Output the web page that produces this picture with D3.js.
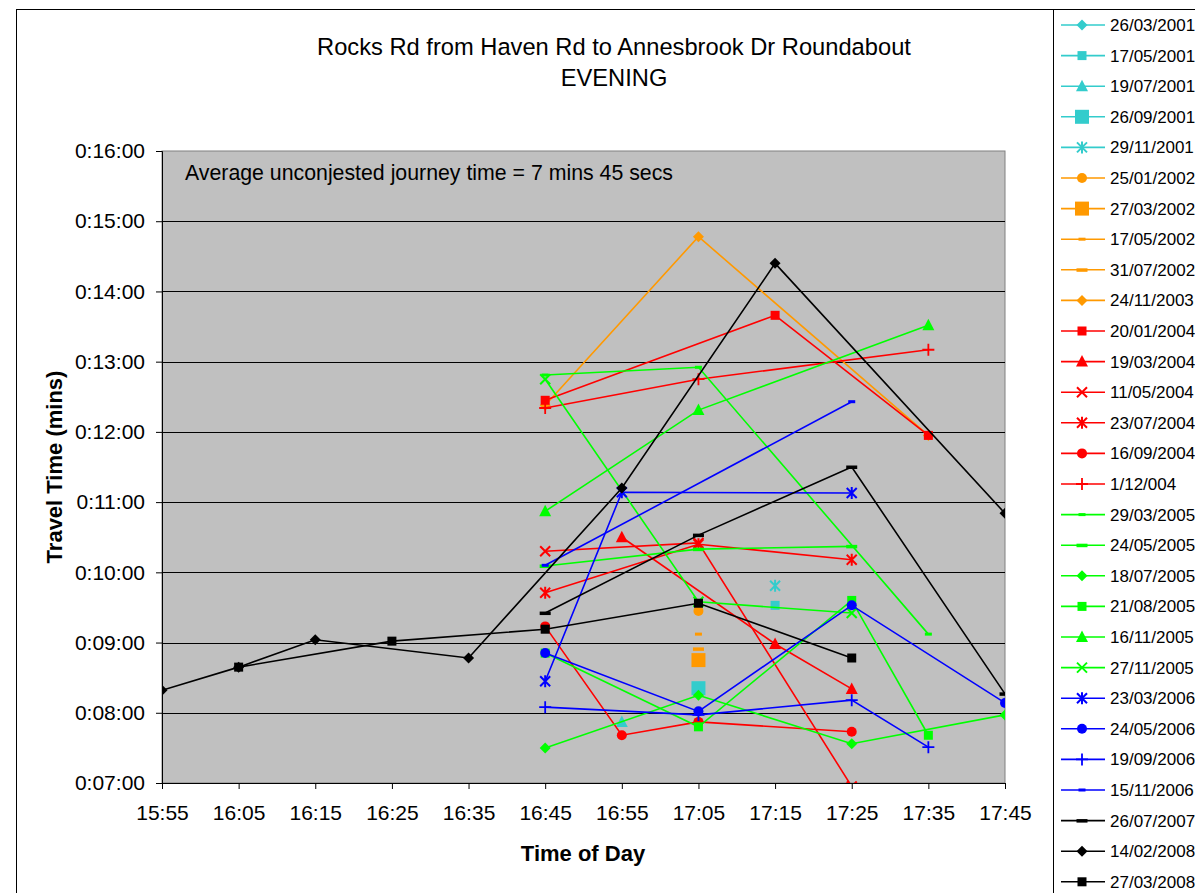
<!DOCTYPE html>
<html>
<head>
<meta charset="utf-8">
<script src="https://cdn.jsdelivr.net/npm/d3@7"></script>
<style>
  body { margin: 0; background: #fff; }
  text { font-family: Arial, "Liberation Sans", sans-serif; }
</style>
</head>
<body>
<div id="chart"></div>
<script>
// category axis
const times = ["15:55","16:05","16:15","16:25","16:35","16:45","16:55","17:05","17:15","17:25","17:35","17:45"];
const yTicks = [7, 8, 9, 10, 11, 12, 13, 14, 15, 16];

// survey dates (legend order)
const surveyDates = ["26/03/2001","17/05/2001","19/07/2001","26/09/2001","29/11/2001",
  "25/01/2002","27/03/2002","17/05/2002","31/07/2002","24/11/2003",
  "20/01/2004","19/03/2004","11/05/2004","23/07/2004","16/09/2004","1/12/004",
  "29/03/2005","24/05/2005","18/07/2005","21/08/2005","16/11/2005","27/11/2005",
  "23/03/2006","24/05/2006","19/09/2006","15/11/2006","26/07/2007","14/02/2008","27/03/2008"];

const seriesColors = ["#33cccc","#33cccc","#33cccc","#33cccc","#33cccc",
  "#ff9900","#ff9900","#ff9900","#ff9900","#ff9900",
  "#ff0000","#ff0000","#ff0000","#ff0000","#ff0000","#ff0000",
  "#00ff00","#00ff00","#00ff00","#00ff00","#00ff00","#00ff00",
  "#0000ff","#0000ff","#0000ff","#0000ff","#000000","#000000","#000000"];

const seriesMarkers = ["diamond","square","triangle","bigsquare","asterisk",
  "circle","bigsquare","smalldash","dash","diamond",
  "square","triangle","x","asterisk","circle","plus",
  "smalldash","dash","diamond","square","triangle","x",
  "asterisk","circle","plus","smalldash","dash","diamond","square"];

// travel time in minutes, one entry per time slot (null = not surveyed)
const _ = null;
const travelTimes = [
  [_,_,_,_,_,_,_,7.88,_,_,_,_],
  [_,_,_,_,_,_,_,_,9.53,_,_,_],
  [_,_,_,_,_,_,7.87,_,_,_,_,_],
  [_,_,_,_,_,_,_,8.35,_,_,_,_],
  [_,_,_,_,_,_,_,_,9.81,_,_,_],
  [_,_,_,_,_,_,_,9.45,_,_,_,_],
  [_,_,_,_,_,_,_,8.75,_,_,_,_],
  [_,_,_,_,_,_,_,9.12,_,_,_,_],
  [_,_,_,_,_,_,_,8.91,_,_,_,_],
  [_,_,_,_,_,12.38,_,14.78,_,_,11.95,_],
  [_,_,_,_,_,12.45,_,_,13.66,_,11.95,_],
  [_,_,_,_,_,_,10.50,_,8.98,8.34,_,_],
  [_,_,_,_,_,10.30,_,10.42,_,6.95,_,_],
  [_,_,_,_,_,9.71,_,10.40,_,10.18,_,_],
  [_,_,_,_,_,9.23,7.68,7.87,_,7.73,_,_],
  [_,_,_,_,_,12.34,_,12.75,_,_,13.17,_],
  [_,_,_,_,_,12.81,_,12.92,_,_,9.12,_],
  [_,_,_,_,_,10.09,_,10.33,_,10.37,_,_],
  [_,_,_,_,_,7.50,_,8.25,_,7.56,_,7.97],
  [_,_,_,_,_,8.85,_,7.80,_,9.60,7.68,_],
  [_,_,_,_,_,10.87,_,12.31,_,_,13.52,_],
  [_,_,_,_,_,12.75,_,9.58,_,9.42,_,_],
  [_,_,_,_,_,8.45,11.14,_,_,11.13,_,_],
  [_,_,_,_,_,8.85,_,8.02,_,9.53,_,8.14],
  [_,_,_,_,_,8.08,_,7.97,_,8.18,7.51,_],
  [_,_,_,_,_,10.10,_,_,_,12.43,_,_],
  [_,_,_,_,_,9.42,_,10.53,_,11.50,_,8.27],
  [8.32,8.65,9.04,_,8.78,_,11.20,_,14.40,_,_,10.84],
  [_,8.65,_,9.02,_,9.19,_,9.56,_,8.78,_,_]
];

const width = 1195, height = 893;
const plot = { left: 162, right: 1005, top: 151, bottom: 783 };

const svg = d3.select("#chart").append("svg")
  .attr("width", width)
  .attr("height", height)
  .style("display", "block");

svg.append("rect").attr("width", width).attr("height", height).attr("fill", "#fff");

// chart area border
svg.append("rect")
  .attr("x", 16.5).attr("y", 9.5)
  .attr("width", 1400).attr("height", 1000)
  .attr("fill", "none").attr("stroke", "#000").attr("stroke-width", 1);

const x = d3.scalePoint().domain(times).range([plot.left, plot.right]);
const y = d3.scaleLinear().domain([7, 16]).range([plot.bottom, plot.top]);

// plot area
svg.append("rect")
  .attr("x", plot.left).attr("y", plot.top)
  .attr("width", plot.right - plot.left).attr("height", plot.bottom - plot.top)
  .attr("fill", "#c0c0c0").attr("stroke", "#808080").attr("stroke-width", 1);

svg.append("g")
  .selectAll("line")
  .data(yTicks.filter(d => d > 7 && d < 16))
  .join("line")
  .attr("x1", plot.left).attr("x2", plot.right)
  .attr("y1", d => Math.round(y(d)) + 0.5).attr("y2", d => Math.round(y(d)) + 0.5)
  .attr("stroke", "#000").attr("stroke-width", 1);

// axes
const pad = n => String(n).padStart(2, "0");
const yAxis = svg.append("g")
  .attr("transform", `translate(${plot.left},0)`)
  .call(d3.axisLeft(y).tickValues(yTicks).tickFormat(d => `0:${pad(d)}:00`).tickSize(6).tickPadding(11));
const xAxis = svg.append("g")
  .attr("transform", `translate(0,${plot.bottom})`)
  .call(d3.axisBottom(x).tickSize(6).tickPadding(16));

[yAxis, xAxis].forEach(g => {
  g.select(".domain").attr("stroke", "#000");
  g.selectAll(".tick line").attr("stroke", "#000");
  g.selectAll("text").attr("fill", "#000").style("font-size", "21px")
    .style("font-family", "Arial, 'Liberation Sans', sans-serif");
});

svg.append("defs").append("clipPath").attr("id", "plotClip")
  .append("rect")
  .attr("x", plot.left).attr("y", plot.top)
  .attr("width", plot.right - plot.left).attr("height", plot.bottom - plot.top);

function drawMarker(g, type, color, cx, cy) {
  const m = g.append("g").attr("transform", `translate(${cx},${cy})`);
  switch (type) {
    case "diamond":
      m.append("path").attr("d", "M0,-5.5L5.5,0L0,5.5L-5.5,0Z").attr("fill", color);
      break;
    case "square":
      m.append("rect").attr("x", -4.5).attr("y", -4.5).attr("width", 9).attr("height", 9).attr("fill", color);
      break;
    case "bigsquare":
      m.append("rect").attr("x", -7).attr("y", -7).attr("width", 14).attr("height", 14).attr("fill", color);
      break;
    case "triangle":
      m.append("path").attr("d", "M0,-6.5L6,5L-6,5Z").attr("fill", color);
      break;
    case "circle":
      m.append("circle").attr("r", 5).attr("fill", color);
      break;
    case "smalldash":
      m.append("rect").attr("x", -3.5).attr("y", -1.5).attr("width", 7).attr("height", 3).attr("fill", color);
      break;
    case "dash":
      m.append("rect").attr("x", -5.5).attr("y", -1.5).attr("width", 11).attr("height", 3.5).attr("fill", color);
      break;
    case "x":
      m.append("path").attr("d", "M-5,-5L5,5M-5,5L5,-5").attr("stroke", color).attr("stroke-width", 2);
      break;
    case "asterisk":
      m.append("path").attr("d", "M-5,-5L5,5M-5,5L5,-5M0,-6L0,6").attr("stroke", color).attr("stroke-width", 2);
      break;
    case "plus":
      m.append("path").attr("d", "M-6,0L6,0M0,-6L0,6").attr("stroke", color).attr("stroke-width", 1.8);
      break;
  }
}

const line = d3.line()
  .x(d => x(d.time))
  .y(d => y(d.value));

const seriesLayer = svg.append("g").attr("clip-path", "url(#plotClip)");

travelTimes.forEach((row, i) => {
  const pts = row.map((v, j) => ({ time: times[j], value: v })).filter(d => d.value !== null);
  const g = seriesLayer.append("g");
  if (pts.length > 1) {
    g.append("path")
      .attr("d", line(pts))
      .attr("fill", "none")
      .attr("stroke", seriesColors[i])
      .attr("stroke-width", 1.6);
  }
  pts.forEach(d => drawMarker(g, seriesMarkers[i], seriesColors[i], x(d.time), y(d.value)));
});

// title and labels
const title = svg.append("text")
  .attr("x", 614).attr("y", 55)
  .attr("text-anchor", "middle")
  .style("font-size", "23.7px");
title.append("tspan").attr("x", 614).text("Rocks Rd from Haven Rd to Annesbrook Dr Roundabout");
title.append("tspan").attr("x", 614).attr("dy", 31).text("EVENING");

svg.append("text")
  .attr("x", 185).attr("y", 180)
  .style("font-size", "21.3px")
  .text("Average unconjested journey time = 7 mins 45 secs");

svg.append("text")
  .attr("transform", "translate(62,467) rotate(-90)")
  .attr("text-anchor", "middle")
  .style("font-size", "22px").style("font-weight", "bold")
  .text("Travel Time (mins)");

svg.append("text")
  .attr("x", 583).attr("y", 861)
  .attr("text-anchor", "middle")
  .style("font-size", "22px").style("font-weight", "bold")
  .text("Time of Day");

// legend
const legend = svg.append("g");
legend.append("rect")
  .attr("x", 1053.5).attr("y", 9.5)
  .attr("width", 300).attr("height", 1000)
  .attr("fill", "#fff").attr("stroke", "#000");

surveyDates.forEach((label, i) => {
  const ly = 25 + i * 30.6;
  const item = legend.append("g");
  item.append("line")
    .attr("x1", 1061).attr("x2", 1105)
    .attr("y1", ly).attr("y2", ly)
    .attr("stroke", seriesColors[i]).attr("stroke-width", 1.6);
  drawMarker(item, seriesMarkers[i], seriesColors[i], 1082, ly);
  item.append("text")
    .attr("x", 1110).attr("y", ly + 6)
    .style("font-size", "17px")
    .text(label);
});
</script>
</body>
</html>
